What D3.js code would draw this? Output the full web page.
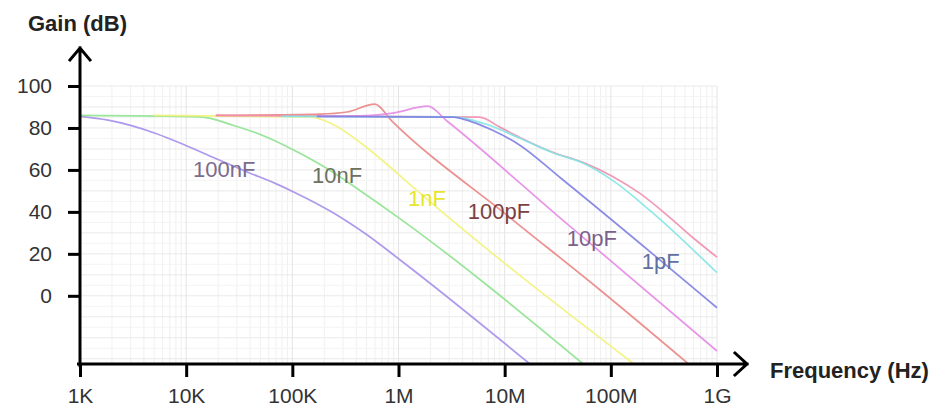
<!DOCTYPE html>
<html>
<head>
<meta charset="utf-8">
<script src="https://cdn.jsdelivr.net/npm/d3@7"></script>
<style>
  body { margin: 0; background: #fff; }
  svg text { font-family: "Liberation Sans", Arial, sans-serif; }
</style>
</head>
<body>
<div id="chart"></div>
<script>
// frequency (Hz), gain (dB)
const c100nF = [[1e3,85.5],[1.84e3,83.7],[5.1e3,77.5],[9.8e3,71.8],[18.7e3,65.6],[38e3,58.9],[69e3,53.6],[110e3,48.8],[240e3,39.7],[500e3,29.2],[1.03e6,17.2],[17.3e6,-32.5]];
const c10nF = [[1e3,86],[13.5e3,85.3],[27.6e3,81.3],[57.7e3,75.6],[118e3,67.9],[241e3,58.9],[433e3,50.2],[1.03e6,36.8],[55e6,-32.5]];
const c1nF = [[5e3,86],[147e3,85.3],[241e3,81.8],[433e3,73.2],[778e3,62.7],[1.28e6,53.1],[161e6,-32]];
const c100pF = [[19e3,86],[182e3,86.6],[327e3,87.6],[600e3,91.4],[867e3,83.3],[11.2e6,37.3],[78.7e6,2.9],[540e6,-32.5]];
const cPink = [[19e3,86],[5.8e6,85.2],[9e6,80.4],[13.9e6,75.5],[28.4e6,68.4],[54.5e6,63.6],[104e6,56.9],[188e6,48.8],[360e6,37.3],[591e6,27.8],[1e9,18.4]];
const cCyan = [[80e3,85.5],[3.25e6,85.3],[6.5e6,82],[13.9e6,75.1],[28.4e6,68.2],[54.5e6,63.3],[104e6,55],[233e6,40.7],[1e9,11]];
const c10pF = [[170e3,85.5],[348e3,85.6],[885e3,87.1],[1.89e6,90.4],[2.86e6,83.3],[33e6,37.3],[1e9,-26.3]];
const c1pF = [[170e3,85.5],[3.25e6,85.2],[5e6,82.8],[7.7e6,78.9],[13.9e6,71.8],[33e6,56.5],[1e9,-5.7]];

const seriesNames = ["100nF", "10nF", "1nF", "100pF", "", "", "10pF", "1pF"];
const seriesData = [c100nF, c10nF, c1nF, c100pF, cPink, cCyan, c10pF, c1pF];
const lineColors = ["#a58eea", "#8ee28e", "#f2f27a", "#ea8484", "#ef8eae", "#82e6e6", "#e48ae4", "#8080e2"];
const labelColors = ["#7b6c8d", "#6b715f", "#e6e62c", "#7b4141", "#7b5f8b", "#5f6fa0"];
// where each label sits, in chart units (Hz, dB)
const labelAt = [[11.6e3,56.5],[153e3,53.6],[1.23e6,42.6],[4.5e6,36.8],[38.5e6,23.9],[196e6,12.9]];

const xTicks = [1e3, 1e4, 1e5, 1e6, 1e7, 1e8, 1e9];
const xTickLabels = ["1K", "10K", "100K", "1M", "10M", "100M", "1G"];
const yTicks = [0, 20, 40, 60, 80, 100];

const width = 945, height = 410;
const pLeft = 80, pRight = 717, pTop = 86, pBottom = 364;

const svg = d3.select("#chart").append("svg")
    .attr("width", width)
    .attr("height", height);

const x = d3.scaleLog().domain([1e3, 1e9]).range([pLeft, pRight]);
const y = d3.scaleLinear().domain([-32.5, 100]).range([pBottom, pTop]);

// grid
const grid = svg.append("g");
const minorX = [];
for (let d = 3; d < 9; d++) {
    for (let m = 2; m < 10; m++) minorX.push(m * Math.pow(10, d));
}
grid.selectAll(".mx").data(minorX).enter().append("line")
    .attr("x1", d => x(d)).attr("x2", d => x(d))
    .attr("y1", pTop).attr("y2", pBottom)
    .style("stroke", "#f0f0f0").style("stroke-width", 1);
const minorY = d3.range(-30, 100, 5);
grid.selectAll(".my").data(minorY).enter().append("line")
    .attr("x1", pLeft).attr("x2", pRight)
    .attr("y1", d => y(d)).attr("y2", d => y(d))
    .style("stroke", d => d % 10 === 0 ? "#e9e9e9" : "#f4f4f4").style("stroke-width", 1);
grid.selectAll(".dx").data(xTicks).enter().append("line")
    .attr("x1", d => x(d)).attr("x2", d => x(d))
    .attr("y1", pTop).attr("y2", pBottom)
    .style("stroke", "#e4e4e4").style("stroke-width", 1);
grid.append("line")
    .attr("x1", pLeft).attr("x2", pRight)
    .attr("y1", y(100)).attr("y2", y(100))
    .style("stroke", "#e9e9e9");

// curves
svg.append("clipPath").attr("id", "plot")
    .append("rect").attr("x", pLeft).attr("y", 0).attr("width", pRight - pLeft + 2).attr("height", pBottom);

const line = d3.line()
    .x(d => x(d[0]))
    .y(d => y(d[1]))
    .curve(d3.curveMonotoneX);

svg.append("g").attr("clip-path", "url(#plot)")
    .selectAll("path")
    .data(seriesData)
    .enter()
    .append("path")
    .attr("d", d => line(d))
    .style("fill", "none")
    .style("stroke", (d, i) => lineColors[i])
    .style("stroke-width", 1.7)
    .style("opacity", 0.9);

// curve labels
const named = seriesNames.filter(n => n !== "");
svg.append("g")
    .selectAll("text")
    .data(named)
    .enter()
    .append("text")
    .attr("x", (d, i) => x(labelAt[i][0]))
    .attr("y", (d, i) => y(labelAt[i][1]))
    .style("font-size", "22px")
    .style("fill", (d, i) => labelColors[i])
    .text(d => d);

// axes
const xAxis = d3.axisBottom(x)
    .tickValues(xTicks)
    .tickFormat((d, i) => xTickLabels[i])
    .tickSize(13)
    .tickPadding(11);
const yAxis = d3.axisLeft(y)
    .tickValues(yTicks)
    .tickSize(12)
    .tickPadding(16);

const gx = svg.append("g").attr("transform", `translate(0,${pBottom})`).call(xAxis);
const gy = svg.append("g").attr("transform", `translate(${pLeft},0)`).call(yAxis);
[gx, gy].forEach(g => {
    g.select(".domain").remove();
    g.selectAll(".tick line").style("stroke", "#000").style("stroke-width", 3);
    g.selectAll(".tick text")
        .style("font-size", "21px")
        .style("fill", "#333")
        .style("font-family", "'Liberation Sans', Arial, sans-serif");
});

// axis lines with open arrow heads
svg.append("path")
    .attr("d", `M${pLeft},${pBottom + 1.5}V48M${pLeft - 10},60L${pLeft},48L${pLeft + 10},60`)
    .style("fill", "none").style("stroke", "#000").style("stroke-width", 3)
    .style("stroke-linecap", "square");
svg.append("path")
    .attr("d", `M${pLeft - 1.5},${pBottom}H747M735,${pBottom - 11}L747,${pBottom}L735,${pBottom + 11}`)
    .style("fill", "none").style("stroke", "#000").style("stroke-width", 3)
    .style("stroke-linecap", "square");

svg.append("text")
    .attr("x", 28).attr("y", 31)
    .style("font-size", "22px").style("font-weight", "bold").style("fill", "#222")
    .text("Gain (dB)");
svg.append("text")
    .attr("x", 770).attr("y", 378)
    .style("font-size", "22px").style("font-weight", "bold").style("fill", "#222")
    .text("Frequency (Hz)");
</script>
</body>
</html>
